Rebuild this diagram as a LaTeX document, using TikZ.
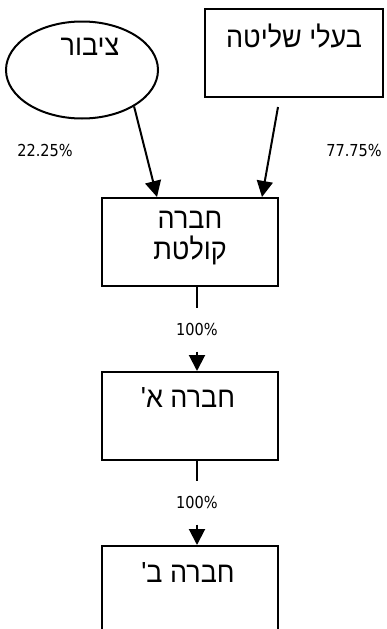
\documentclass[tikz,border=0pt]{standalone}
\usepackage{fontspec}
\usetikzlibrary{shapes.geometric,arrows.meta,calc}
\newfontfamily\hebfont[Script=Hebrew, FakeStretch=0.93]{Liberation Sans}
\newfontfamily\numfont[FakeStretch=0.88]{DejaVu Sans}
\TeXXeTstate=1

\begin{document}
\begin{tikzpicture}[x = 1pt, y = -1pt, line width = 2pt,
	box/.style = {draw, rectangle, minimum width = 176pt, minimum height = 88pt, inner sep = 0pt},
	htext/.style = {font = \hebfont\fontsize{29}{31}\selectfont, align = center, inner sep = 0pt},
	ptext/.style = {font = \numfont\fontsize{16.5}{18}\selectfont, inner sep = 0pt, minimum height = 42pt},
	arr/.style = {-{Triangle[length = 16pt, width = 16pt]}}]%אחזקות
	\useasboundingbox (0,0) rectangle (387,629);
	\node[draw, ellipse, minimum width = 152pt, minimum height = 97pt, inner sep = 0pt](TSIBUR) at (82,70){};
	\node[htext](TSIBUR-T) at (90,47){\beginR ציבור\endR};
	\node[box, minimum width = 178pt](SHLITA) at (294,53){};
	\node[htext](SHLITA-T) at (294,36){\beginR בעלי שליטה\endR};
	\node[ptext](P-TSIBUR) at (45,150){22.25\%};
	\node[ptext](P-SHLITA) at (354,150){77.75\%};
	\node[box](KOLET) at (190,242){};
	\node[htext](KOLET-T) at (190,238){\beginR חברה\endR\\\beginR קולטת\endR};
	\node[box](A) at (190,416){};
	\node[htext](A-T) at (188,398){\beginR חברה א'\endR};
	\node[box](B) at (190,590){};
	\node[htext](B-T) at (188,573){\beginR חברה ב'\endR};
	\node[ptext](P1) at (197,329.5){100\%};
	\node[ptext](P2) at (197,502.5){100\%};
	\draw[arr]
	(TSIBUR.-35) -- ($(KOLET.north)+(-33,0)$);
	\draw[arr]
	($(SHLITA.south)+(-16,9)$) -- ($(KOLET.north)+(72,0)$);
	\draw
	(P1.north |- KOLET.south) -- (P1.north)
	(P2.north |- A.south) -- (P2.north);
	\draw[arr] (P1.south) -- (P1.south |- A.north);
	\draw[arr] (P2.south) -- (P2.south |- B.north);
\end{tikzpicture}
\end{document}
